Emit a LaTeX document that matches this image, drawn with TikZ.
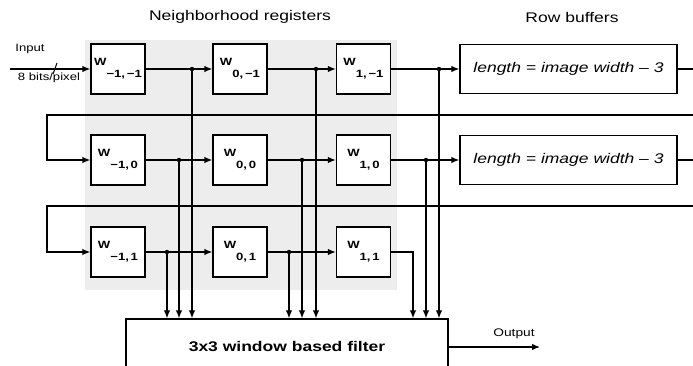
\documentclass[tikz,border=0pt]{standalone}
\usepackage{fontspec}
\setmainfont{Liberation Sans}[FakeStretch=1.25]
\usetikzlibrary{arrows.meta}

\tikzset{
  wire/.style={line width=1.3pt},
  reg/.style={draw, line width=1.3pt, fill=white, minimum width=54pt, minimum height=50pt, inner sep=0pt, font=\fontsize{10.5}{12}\selectfont\bfseries},
  rowbuf/.style={draw, line width=1.3pt, fill=white, minimum width=217pt, minimum height=49pt, inner sep=0pt, font=\fontsize{14}{16}\selectfont\itshape},
  filterbox/.style={draw, line width=1.3pt, fill=white, minimum width=322pt, minimum height=56pt, font=\fontsize{14}{16}\selectfont\bfseries},
  heading/.style={font=\fontsize{14}{16}\selectfont},
  small/.style={font=\fontsize{10.5}{12}\selectfont, inner sep=0pt},
}
\newcommand{\wreg}[1]{W\raisebox{-12pt}{#1}}

\begin{document}
\begin{tikzpicture}[x=1pt, y=-1pt, >={Latex[length=8pt,width=6.5pt]}]
    \useasboundingbox (0,0) rectangle (693,366);
    \fill[black!7] (85,40) rectangle (397,290);

    \node[heading] (hregs) at (240,17) {Neighborhood registers};
    \node[heading] (hbufs) at (572,17) {Row buffers};

    \node[reg] (w11) at (118,69) {\wreg{−1,\,−1}};
    \node[reg] (w12) at (240,69) {\wreg{0,\,−1}};
    \node[reg] (w13) at (363.5,69) {\wreg{1,\,−1}};
    \node[reg] (w21) at (118,160) {\wreg{−1,\,0}};
    \node[reg] (w22) at (240,160) {\wreg{0,\,0}};
    \node[reg] (w23) at (363.5,160) {\wreg{1,\,0}};
    \node[reg] (w31) at (118,252) {\wreg{−1,\,1}};
    \node[reg] (w32) at (240,252) {\wreg{0,\,1}};
    \node[reg] (w33) at (363.5,252) {\wreg{1,\,1}};

    \node[rowbuf] (rb1) at (568.5,69) {length = image width – 3};
    \node[rowbuf] (rb2) at (568.5,160) {length = image width – 3};

    \node[filterbox] (filt) at (287,347) {3x3 window based filter};

    % input
    \coordinate (inp) at (10,69);
    \draw[wire,->] (inp) -- (w11);
    \draw[line width=1pt] (53,74) -- (57,63);
    \node[small] (linp) at (30,49) {Input};
    \node[small] (lbits) at (49,78) {8 bits/pixel};

    % shift chain
    \draw[wire,->] (w11) -- (w12);
    \draw[wire,->] (w12) -- (w13);
    \draw[wire,->] (w13) -- (rb1);
    \draw[wire,->] (w21) -- (w22);
    \draw[wire,->] (w22) -- (w23);
    \draw[wire,->] (w23) -- (rb2);
    \draw[wire,->] (w31) -- (w32);
    \draw[wire,->] (w32) -- (w33);

    % row buffer feedback
    \coordinate (e1) at (693,69);
    \coordinate (r1) at (693,115);
    \coordinate (l1) at (47,115);
    \draw[wire] (rb1) -- (e1);
    \draw[wire,->] (r1) -- (l1) |- (w21);
    \coordinate (e2) at (693,160);
    \coordinate (r2) at (693,206);
    \coordinate (l2) at (47,206);
    \draw[wire] (rb2) -- (e2);
    \draw[wire,->] (r2) -- (l2) |- (w31);

    % taps to the filter
    \coordinate (t11) at (192,69);
    \coordinate (t12) at (316,69);
    \coordinate (t13) at (439,69);
    \coordinate (t21) at (179,160);
    \coordinate (t22) at (302,160);
    \coordinate (t23) at (426,160);
    \coordinate (t31) at (167,252);
    \coordinate (t32) at (289,252);
    \coordinate (c33) at (413,252);
    \foreach \t in {t11,t12,t13,t21,t22,t23,t31,t32} {
        \draw[wire,->] (\t) -- (\t |- filt.north);
        \fill (\t) circle (2.2pt);
    }
    \draw[wire,->] (w33) -- (c33) -- (c33 |- filt.north);

    % output
    \coordinate (out) at (540,347);
    \draw[wire,->] (filt) -- (out);
    \node[font=\fontsize{11}{12}\selectfont] (lout) at (514,334) {Output};
\end{tikzpicture}
\end{document}
